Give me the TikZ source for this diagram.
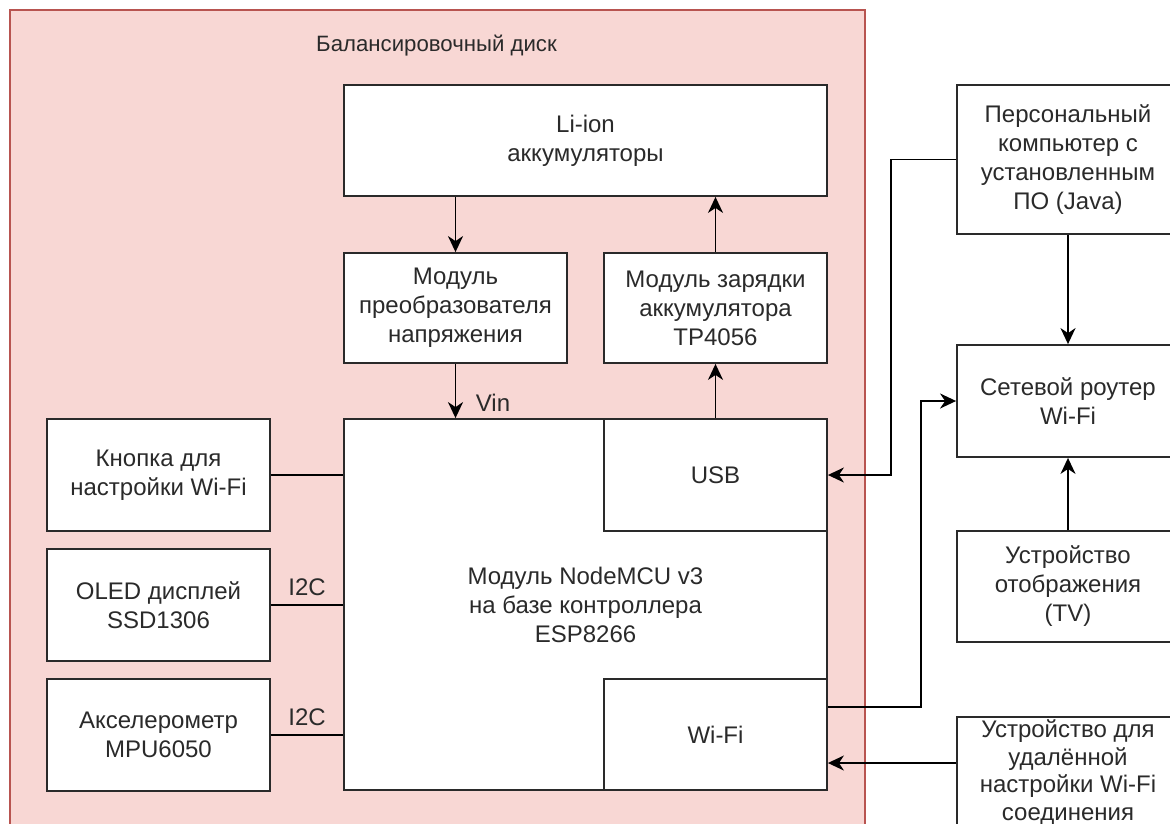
\documentclass[tikz,border=0pt]{standalone}
\usepackage{fontspec}
\setmainfont{Liberation Sans}
\usetikzlibrary{arrows.meta}
\definecolor{pinkfill}{HTML}{F8D7D4}
\definecolor{pinkline}{HTML}{B85450}
\definecolor{ink}{HTML}{2A2A2A}
\begin{document}
\begin{tikzpicture}[x=1pt,y=-1pt,
  box/.style={draw=ink,fill=white,line width=1.8pt,rectangle,align=center,text=ink,
    font=\fontsize{24}{29}\selectfont,inner sep=0pt},
  lbl/.style={text=ink,font=\fontsize{24}{29}\selectfont,inner sep=0pt},
  conn/.style={draw=black,line width=1.8pt},
  arr/.style={conn,-{Stealth[length=16pt,width=15pt,inset=5pt]}}]
\useasboundingbox (0,0) rectangle (1170,823);
\clip (0,0) rectangle (1170,823);
\fill[white] (0,0) rectangle (1170,823);
% container
\draw[fill=pinkfill,draw=pinkline,line width=1.5pt] (10,10) rectangle (865,850);
\node[lbl,font=\fontsize{22.2}{27}\selectfont] (title) at (436.5,46) {Балансировочный диск};
% nodes
\node[box,minimum width=483pt,minimum height=111pt] (lion) at (585.5,140.5) {Li-ion\\аккумуляторы};
\node[box,minimum width=223pt,minimum height=110pt] (conv) at (455.5,308) {Модуль\\преобразователя\\напряжения};
\node[box,minimum width=223pt,minimum height=110pt] (chg) at (715.5,308) {Модуль зарядки\\аккумулятора\\TP4056};
\node[box,minimum width=483pt,minimum height=371pt] (mcu) at (585.5,604.5) {Модуль NodeMCU v3\\на базе контроллера\\ESP8266};
\node[box,minimum width=223pt,minimum height=112pt] (usb) at (715.5,475) {USB};
\node[box,minimum width=223pt,minimum height=111pt] (wifi) at (715.5,734.5) {Wi-Fi};
\node[box,minimum width=223pt,minimum height=112pt] (btn) at (158.5,475) {Кнопка для\\настройки Wi-Fi};
\node[box,minimum width=223pt,minimum height=112pt] (oled) at (158.5,605) {OLED дисплей\\SSD1306};
\node[box,minimum width=223pt,minimum height=112pt] (acc) at (158.5,735) {Акселерометр\\MPU6050};
\node[box,minimum width=222pt,minimum height=149pt] (pc) at (1068,159.5) {Персональный\\компьютер с\\установленным\\ПО (Java)};
\node[box,minimum width=222pt,minimum height=112pt] (router) at (1068,401) {Сетевой роутер\\Wi-Fi};
\node[box,minimum width=222pt,minimum height=111pt] (disp) at (1068,586.5) {Устройство\\отображения\\(TV)};
\node[box,minimum width=222pt,minimum height=111pt,font=\fontsize{24}{27.5}\selectfont] (remote) at (1068,772.5) {Устройство для\\удалённой\\настройки Wi-Fi\\соединения};
% connectors
\draw[arr] (lion.south -| conv.north) -- (conv.north);
\draw[arr] (conv.south) -- (conv.south |- mcu.north);
\draw[arr] (usb.north) -- (chg.south);
\draw[arr] (chg.north) -- (chg.north |- lion.south);
\draw[conn] (btn.east) -- (btn.east -| mcu.west);
\draw[conn] (oled.east) -- (oled.east -| mcu.west);
\draw[conn] (acc.east) -- (acc.east -| mcu.west);
\draw[arr] (pc.west) -- ++(-65,0) |- (usb.east);
\draw[arr] ([yshift=27.5pt]wifi.east) -- ++(93,0) |- (router.west);
\draw[arr] (pc.south) -- (router.north);
\draw[arr] (disp.north) -- (router.south);
\draw[arr] ([yshift=9.5pt]remote.west) -- ([yshift=9.5pt]remote.west -| wifi.east);
% labels
\node[lbl] (vin) at (493,403) {Vin};
\node[lbl] (i2ca) at (307,587) {I2C};
\node[lbl] (i2cb) at (307,717) {I2C};
\end{tikzpicture}
\end{document}
